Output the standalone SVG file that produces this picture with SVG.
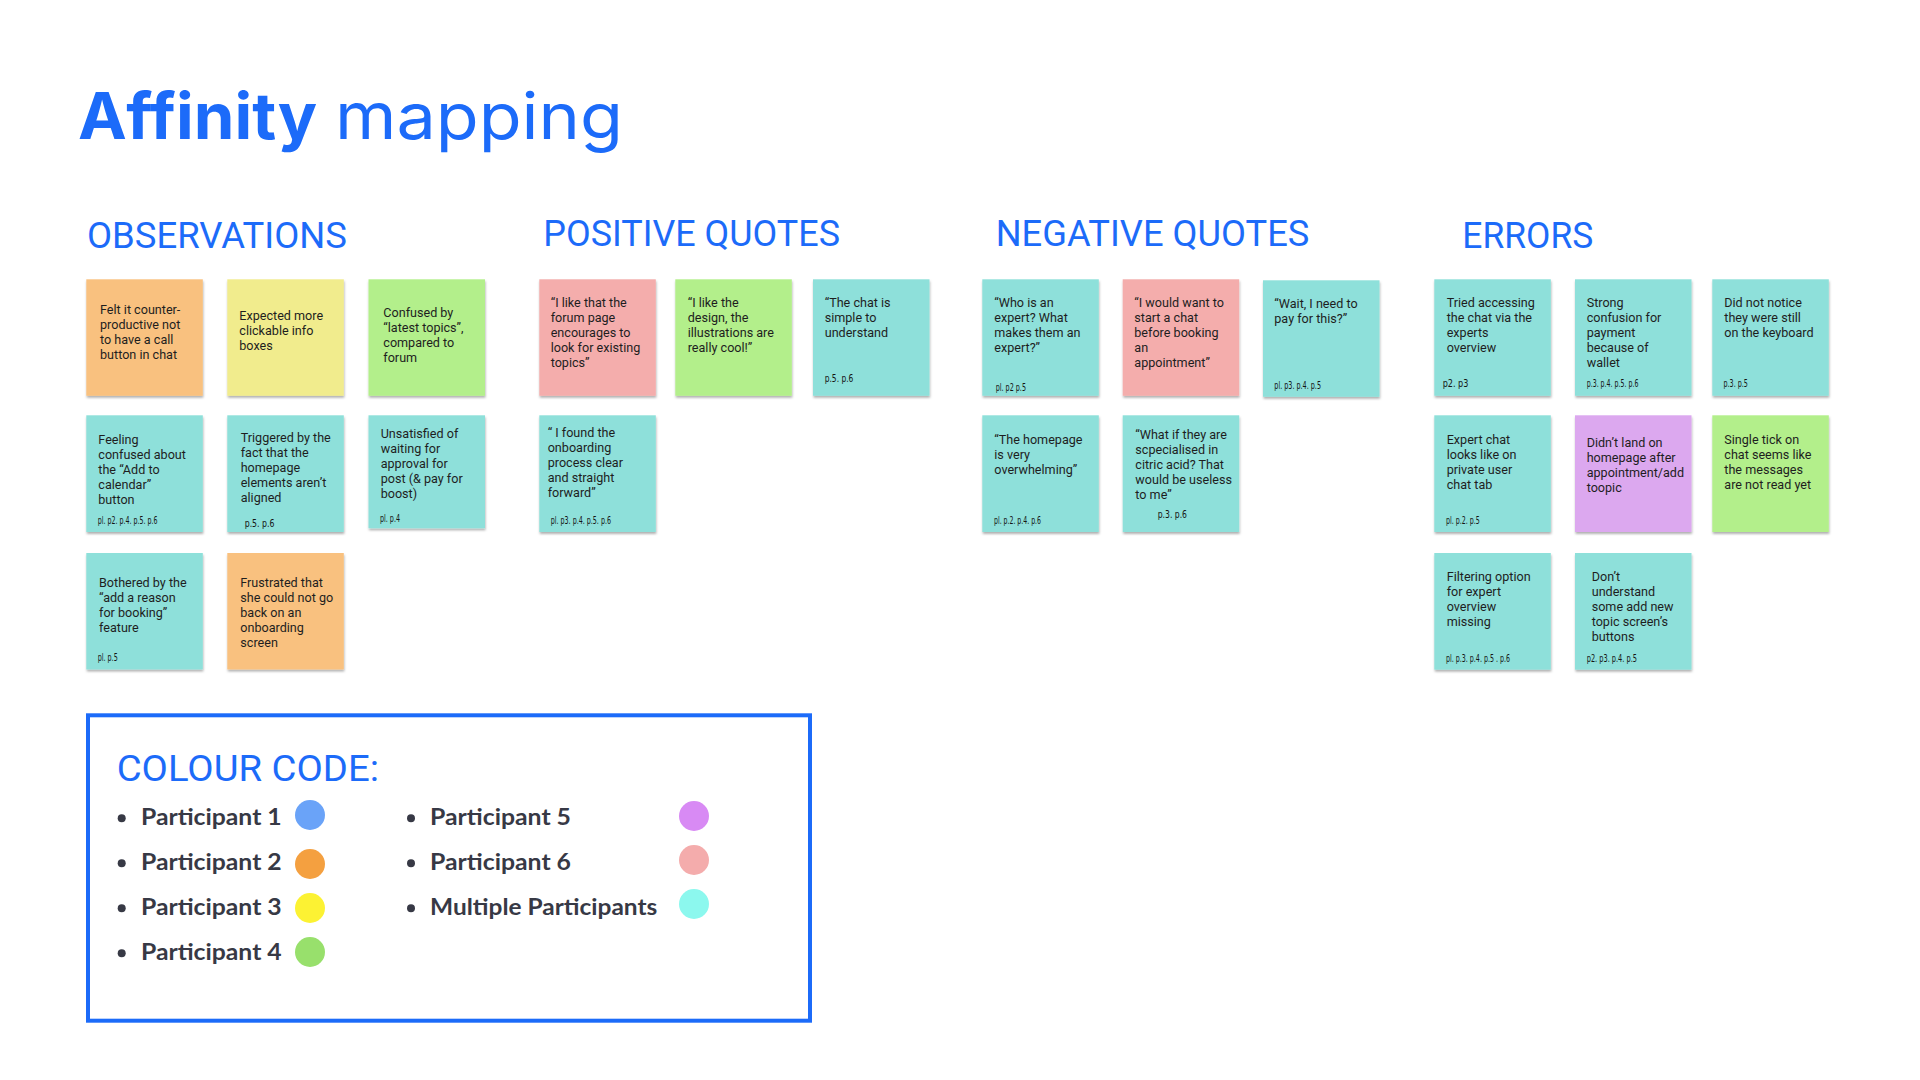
<svg xmlns="http://www.w3.org/2000/svg" width="1920" height="1080" viewBox="0 0 1920 1080">
<defs>
<filter id="sh" x="-10%" y="-10%" width="130%" height="130%">
<feDropShadow dx="0.5" dy="2" stdDeviation="1.2" flood-color="#000" flood-opacity="0.3"/>
</filter>
</defs>
<style>
.title{font-family:Inter,"Noto Sans",sans-serif;fill:#1c6bf9;font-size:64px}
.h{font-family:Roboto,"Liberation Sans",sans-serif;fill:#1c6bf9;font-size:36px}
.s{filter:url(#sh)}
.or{fill:#f9c17f}.ye{fill:#f1ec8d}.gr{fill:#b3ef8b}.te{fill:#8ee0da}.pk{fill:#f4adac}.pu{fill:#dca8ef}
.t{font-family:Roboto,"Liberation Sans",sans-serif;font-size:12.6px;fill:#1e1e1e}
.l{font-family:"Liberation Sans Narrow","DejaVu Sans Condensed","Liberation Serif",serif;font-size:10.5px;fill:#151515}
.lg{font-family:Lato,"Noto Sans",sans-serif;font-weight:700;font-size:23px;fill:#373945}
</style>
<rect width="1920" height="1080" fill="#ffffff"/>
<text class="title" x="78" y="139" font-weight="700" textLength="239" lengthAdjust="spacingAndGlyphs">Affinity</text>
<text class="title" x="335" y="139" font-weight="400" textLength="288" lengthAdjust="spacingAndGlyphs">mapping</text>

<text class="h" x="87" y="248.3" textLength="260" lengthAdjust="spacingAndGlyphs">OBSERVATIONS</text>
<text class="h" x="543.3" y="246" textLength="296.7" lengthAdjust="spacingAndGlyphs">POSITIVE QUOTES</text>
<text class="h" x="995.7" y="246" textLength="313.6" lengthAdjust="spacingAndGlyphs">NEGATIVE QUOTES</text>
<text class="h" x="1462.3" y="248.3" textLength="131" lengthAdjust="spacingAndGlyphs">ERRORS</text>

<g id="obs-1"><rect class="s or" x="86.3" y="279.3" width="116.5" height="116.5"/>
<text class="t" y="314.3"><tspan x="100">Felt it counter-</tspan><tspan x="100" dy="15">productive not</tspan><tspan x="100" dy="15">to have a call</tspan><tspan x="100" dy="15">button in chat</tspan></text></g>
<g id="obs-2"><rect class="s ye" x="227.3" y="279.3" width="116.5" height="116.5"/>
<text class="t" y="320"><tspan x="239.3">Expected more</tspan><tspan x="239.3" dy="15">clickable info</tspan><tspan x="239.3" dy="15">boxes</tspan></text></g>
<g id="obs-3"><rect class="s gr" x="368.5" y="279.3" width="116.5" height="116.5"/>
<text class="t" y="316.7"><tspan x="383.3">Confused by</tspan><tspan x="383.3" dy="15">“latest topics”,</tspan><tspan x="383.3" dy="15">compared to</tspan><tspan x="383.3" dy="15">forum</tspan></text></g>
<g id="obs-4"><rect class="s te" x="86.3" y="415.3" width="116.5" height="116.7"/>
<text class="t" y="444"><tspan x="98.3">Feeling</tspan><tspan x="98.3" dy="15">confused about</tspan><tspan x="98.3" dy="15">the “Add to</tspan><tspan x="98.3" dy="15">calendar”</tspan><tspan x="98.3" dy="15">button</tspan></text>
<text class="l" x="97.7" y="524" textLength="59.7" lengthAdjust="spacingAndGlyphs">pl. p2. p.4. p.5. p.6</text></g>
<g id="obs-5"><rect class="s te" x="227.3" y="415.3" width="116.5" height="116.7"/>
<text class="t" y="442.3"><tspan x="240.7">Triggered by the</tspan><tspan x="240.7" dy="15">fact that  the</tspan><tspan x="240.7" dy="15">homepage</tspan><tspan x="240.7" dy="15">elements aren’t</tspan><tspan x="240.7" dy="15">aligned</tspan></text>
<text class="l" x="244.7" y="527.3" font-size="11.5" textLength="29.7" lengthAdjust="spacingAndGlyphs">p.5. p.6</text></g>
<g id="obs-6"><rect class="s te" x="368.5" y="415.3" width="116.5" height="113"/>
<text class="t" y="438.3"><tspan x="380.7">Unsatisfied of</tspan><tspan x="380.7" dy="15">waiting for</tspan><tspan x="380.7" dy="15">approval for</tspan><tspan x="380.7" dy="15">post (&amp; pay for</tspan><tspan x="380.7" dy="15">boost)</tspan></text>
<text class="l" x="380" y="522.3" textLength="20" lengthAdjust="spacingAndGlyphs">pl. p.4</text></g>
<g id="obs-7"><rect class="s te" x="86.3" y="553" width="116.5" height="116.5"/>
<text class="t" y="586.7"><tspan x="99">Bothered by the</tspan><tspan x="99" dy="15">“add a reason</tspan><tspan x="99" dy="15">for booking”</tspan><tspan x="99" dy="15">feature</tspan></text>
<text class="l" x="97.7" y="661" textLength="20" lengthAdjust="spacingAndGlyphs">pl. p.5</text></g>
<g id="obs-8"><rect class="s or" x="227.3" y="553" width="116.5" height="116.5"/>
<text class="t" y="586.7"><tspan x="240.3">Frustrated that</tspan><tspan x="240.3" dy="15">she could not go</tspan><tspan x="240.3" dy="15">back on an</tspan><tspan x="240.3" dy="15">onboarding</tspan><tspan x="240.3" dy="15">screen</tspan></text></g>

<g id="pos-1"><rect class="s pk" x="539.3" y="279.3" width="116.5" height="116.5"/>
<text class="t" y="307.3"><tspan x="550.7">“I like that the</tspan><tspan x="550.7" dy="15">forum page</tspan><tspan x="550.7" dy="15">encourages to</tspan><tspan x="550.7" dy="15">look for existing</tspan><tspan x="550.7" dy="15">topics”</tspan></text></g>
<g id="pos-2"><rect class="s gr" x="675.3" y="279.3" width="116.5" height="116.5"/>
<text class="t" y="307.3"><tspan x="687.7">“I like the</tspan><tspan x="687.7" dy="15">design, the</tspan><tspan x="687.7" dy="15">illustrations are</tspan><tspan x="687.7" dy="15">really cool!”</tspan></text></g>
<g id="pos-3"><rect class="s te" x="813" y="279.3" width="116.5" height="116.5"/>
<text class="t" y="307.3"><tspan x="824.7">“The chat is</tspan><tspan x="824.7" dy="15">simple to</tspan><tspan x="824.7" dy="15">understand</tspan></text>
<text class="l" x="824.7" y="381.7" font-size="11.5" textLength="28.7" lengthAdjust="spacingAndGlyphs">p.5. p.6</text></g>
<g id="pos-4"><rect class="s te" x="539.3" y="415.3" width="116.5" height="116.7"/>
<text class="t" y="436.7"><tspan x="547.7">“ I found the</tspan><tspan x="547.7" dy="15">onboarding</tspan><tspan x="547.7" dy="15">process clear</tspan><tspan x="547.7" dy="15">and straight</tspan><tspan x="547.7" dy="15">forward”</tspan></text>
<text class="l" x="550.7" y="524" textLength="60.3" lengthAdjust="spacingAndGlyphs">pl. p3. p.4. p.5. p.6</text></g>

<g id="neg-1"><rect class="s te" x="982.3" y="279.3" width="116.5" height="116.5"/>
<text class="t" y="307.3"><tspan x="994.3">“Who is an</tspan><tspan x="994.3" dy="15">expert? What</tspan><tspan x="994.3" dy="15">makes them an</tspan><tspan x="994.3" dy="15">expert?”</tspan></text>
<text class="l" x="995.7" y="391" textLength="30.3" lengthAdjust="spacingAndGlyphs">pl. p2 p.5</text></g>
<g id="neg-2"><rect class="s pk" x="1122.7" y="279.3" width="116.5" height="116.5"/>
<text class="t" y="307.3"><tspan x="1134.3">“I would want to</tspan><tspan x="1134.3" dy="15">start a chat</tspan><tspan x="1134.3" dy="15">before booking</tspan><tspan x="1134.3" dy="15">an</tspan><tspan x="1134.3" dy="15">appointment”</tspan></text></g>
<g id="neg-3"><rect class="s te" x="1263" y="280.3" width="116.5" height="116.5"/>
<text class="t" y="308.3"><tspan x="1274.3">“Wait, I need to</tspan><tspan x="1274.3" dy="15">pay for this?”</tspan></text>
<text class="l" x="1274.3" y="388.7" textLength="46.7" lengthAdjust="spacingAndGlyphs">pl. p3. p.4. p.5</text></g>
<g id="neg-4"><rect class="s te" x="982.3" y="415.3" width="116.5" height="116.7"/>
<text class="t" y="444"><tspan x="994.3">“The homepage</tspan><tspan x="994.3" dy="15">is very</tspan><tspan x="994.3" dy="15">overwhelming”</tspan></text>
<text class="l" x="994" y="524" textLength="47" lengthAdjust="spacingAndGlyphs">pl. p.2. p.4. p.6</text></g>
<g id="neg-5"><rect class="s te" x="1122.7" y="415.3" width="116.5" height="116.7"/>
<text class="t" y="438.7"><tspan x="1135.3">“What if they are</tspan><tspan x="1135.3" dy="15">scpecialised in</tspan><tspan x="1135.3" dy="15">citric acid? That</tspan><tspan x="1135.3" dy="15">would be useless</tspan><tspan x="1135.3" dy="15">to me”</tspan></text>
<text class="l" x="1157.7" y="518.3" font-size="11.5" textLength="29.3" lengthAdjust="spacingAndGlyphs">p.3. p.6</text></g>

<g id="err-1"><rect class="s te" x="1434.3" y="279.3" width="116.5" height="116.5"/>
<text class="t" y="307.3"><tspan x="1446.7">Tried accessing</tspan><tspan x="1446.7" dy="15">the chat via the</tspan><tspan x="1446.7" dy="15">experts</tspan><tspan x="1446.7" dy="15">overview</tspan></text>
<text class="l" x="1442.7" y="386.7" font-size="11.5" textLength="25.7" lengthAdjust="spacingAndGlyphs">p2. p3</text></g>
<g id="err-2"><rect class="s te" x="1575" y="279.3" width="116.5" height="116.5"/>
<text class="t" y="307.3"><tspan x="1586.7">Strong</tspan><tspan x="1586.7" dy="15">confusion for</tspan><tspan x="1586.7" dy="15">payment</tspan><tspan x="1586.7" dy="15">because of</tspan><tspan x="1586.7" dy="15">wallet</tspan></text>
<text class="l" x="1586.7" y="387.3" textLength="51.7" lengthAdjust="spacingAndGlyphs">p.3. p.4. p.5. p.6</text></g>
<g id="err-3"><rect class="s te" x="1712.3" y="279.3" width="116.5" height="116.5"/>
<text class="t" y="307.3"><tspan x="1724.3">Did not notice</tspan><tspan x="1724.3" dy="15">they were still</tspan><tspan x="1724.3" dy="15">on the keyboard</tspan></text>
<text class="l" x="1723.5" y="387.3" textLength="24.3" lengthAdjust="spacingAndGlyphs">p.3. p.5</text></g>
<g id="err-4"><rect class="s te" x="1434.3" y="415.3" width="116.5" height="116.7"/>
<text class="t" y="443.7"><tspan x="1446.7">Expert chat</tspan><tspan x="1446.7" dy="15">looks like on</tspan><tspan x="1446.7" dy="15">private user</tspan><tspan x="1446.7" dy="15">chat tab</tspan></text>
<text class="l" x="1446" y="524" textLength="33.7" lengthAdjust="spacingAndGlyphs">pl. p.2. p.5</text></g>
<g id="err-5"><rect class="s pu" x="1575" y="415.3" width="116.5" height="116.7"/>
<text class="t" y="447.3"><tspan x="1586.7">Didn’t  land on</tspan><tspan x="1586.7" dy="15">homepage after</tspan><tspan x="1586.7" dy="15">appointment/add</tspan><tspan x="1586.7" dy="15">toopic</tspan></text></g>
<g id="err-6"><rect class="s gr" x="1712.3" y="415.3" width="116.5" height="116.7"/>
<text class="t" y="443.7"><tspan x="1724.3">Single tick on</tspan><tspan x="1724.3" dy="15">chat seems like</tspan><tspan x="1724.3" dy="15">the messages</tspan><tspan x="1724.3" dy="15">are not read yet</tspan></text></g>
<g id="err-7"><rect class="s te" x="1434.3" y="553" width="116.5" height="116.7"/>
<text class="t" y="580.7"><tspan x="1446.7">Filtering option</tspan><tspan x="1446.7" dy="15">for expert</tspan><tspan x="1446.7" dy="15">overview</tspan><tspan x="1446.7" dy="15">missing</tspan></text>
<text class="l" x="1446" y="661.7" textLength="64" lengthAdjust="spacingAndGlyphs">pl. p.3. p.4. p.5 . p.6</text></g>
<g id="err-8"><rect class="s te" x="1575" y="553" width="116.5" height="116.7"/>
<text class="t" y="580.7"><tspan x="1591.7">Don’t</tspan><tspan x="1591.7" dy="15">understand</tspan><tspan x="1591.7" dy="15">some add new</tspan><tspan x="1591.7" dy="15">topic screen’s</tspan><tspan x="1591.7" dy="15">buttons</tspan></text>
<text class="l" x="1586.7" y="661.7" textLength="50.3" lengthAdjust="spacingAndGlyphs">p2. p3.  p.4. p.5</text></g>

<g id="legend">
<rect x="88" y="715.3" width="722" height="305.4" fill="none" stroke="#1c6bf9" stroke-width="4"/>
<text class="h" x="116.7" y="781" font-size="34" textLength="262.3" lengthAdjust="spacingAndGlyphs">COLOUR CODE:</text>
<g fill="#373945">
<circle cx="121.7" cy="818.3" r="4"/><circle cx="121.7" cy="863.3" r="4"/><circle cx="121.7" cy="908.3" r="4"/><circle cx="121.7" cy="953.3" r="4"/>
<circle cx="411" cy="818.3" r="4"/><circle cx="411" cy="863.3" r="4"/><circle cx="411" cy="908.3" r="4"/>
</g>
<text class="lg" x="141" y="825" textLength="140.7" lengthAdjust="spacingAndGlyphs">Participant 1</text>
<text class="lg" x="141" y="870" textLength="140.7" lengthAdjust="spacingAndGlyphs">Participant 2</text>
<text class="lg" x="141" y="915" textLength="140.7" lengthAdjust="spacingAndGlyphs">Participant 3</text>
<text class="lg" x="141" y="960" textLength="140.7" lengthAdjust="spacingAndGlyphs">Participant 4</text>
<text class="lg" x="430" y="825" textLength="141" lengthAdjust="spacingAndGlyphs">Participant 5</text>
<text class="lg" x="430" y="870" textLength="141" lengthAdjust="spacingAndGlyphs">Participant 6</text>
<text class="lg" x="430" y="915" textLength="227.3" lengthAdjust="spacingAndGlyphs">Multiple Participants</text>
<circle cx="310" cy="815" r="15" fill="#6aa3f8"/>
<circle cx="310" cy="864" r="15" fill="#f4a040"/>
<circle cx="310" cy="908" r="15" fill="#fcf233"/>
<circle cx="310" cy="952" r="15" fill="#98e06c"/>
<circle cx="694" cy="816" r="15" fill="#d88af4"/>
<circle cx="694" cy="860" r="15" fill="#f4acac"/>
<circle cx="694" cy="904" r="15" fill="#8cf8ee"/>
</g>
</svg>
